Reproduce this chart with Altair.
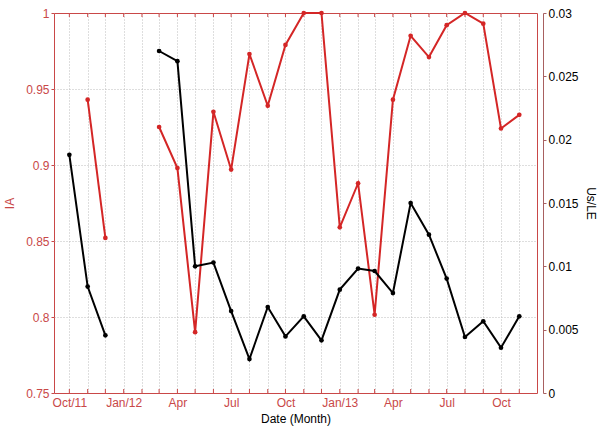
import altair as alt
import pandas as pd

# Monthly observations (missing months are simply absent)
months = ["2011-10", "2011-11", "2011-12", "2012-03", "2012-04", "2012-05",
          "2012-06", "2012-07", "2012-08", "2012-09", "2012-10", "2012-11",
          "2012-12", "2013-01", "2013-02", "2013-03", "2013-04", "2013-05",
          "2013-06", "2013-07", "2013-08", "2013-09", "2013-10", "2013-11"]
ia = [None, 0.943, 0.852, 0.925, 0.898, 0.790, 0.935, 0.897, 0.973, 0.939,
      0.979, 1.0, 1.0, 0.859, 0.888, 0.8015, 0.943, 0.985, 0.971, 0.992,
      1.0, 0.993, 0.924, 0.933]
us_le = [0.0188, 0.0084, 0.00455, 0.0270, 0.0262, 0.0100, 0.0103, 0.00647,
         0.00268, 0.00679, 0.00447, 0.00605, 0.00416, 0.00816, 0.00982,
         0.00963, 0.00789, 0.0150, 0.0125, 0.00903, 0.00442, 0.00566,
         0.00358, 0.00605]

# Axis labels shown at quarterly positions
quarter_labels = {"2011-10": "Oct/11", "2012-01": "Jan/12", "2012-04": "Apr",
                  "2012-07": "Jul", "2012-10": "Oct", "2013-01": "Jan/13",
                  "2013-04": "Apr", "2013-07": "Jul", "2013-10": "Oct"}
ia_ticks = [0.75, 0.8, 0.85, 0.9, 0.95, 1.0]
us_ticks = [0.0, 0.005, 0.01, 0.015, 0.02, 0.025, 0.03]

RED = "#d42626"
AXIS_RED = "#c94848"
RIGHT_AXIS = "#a86060"
GRID = "#bdbdbd"
FONT = "Liberation Sans"

# Build the table; a new segment starts after each gap in the monthly record
df = pd.DataFrame({"month": months, "ia": ia, "us_le": us_le})
per = pd.PeriodIndex(df["month"], freq="M")
idx = per.year * 12 + per.month
df["segment"] = (pd.Series(idx).diff().fillna(1) > 1).cumsum().values
df["date"] = df["month"] + "-01"

all_months = pd.period_range("2011-10", "2013-11", freq="M")
ticks_df = pd.DataFrame({"date": [str(p) + "-01" for p in all_months]})

label_expr = "".join(
    f"utcFormat(datum.value, '%Y-%m') == '{k}' ? '{v}' : " for k, v in quarter_labels.items()
) + "''"

x_enc = alt.X(
    "date:T",
    scale=alt.Scale(type="utc",
                    domain=[alt.DateTime(year=2011, month=9, date=5, utc=True),
                            alt.DateTime(year=2013, month=12, date=1, utc=True)]),
    axis=alt.Axis(
        values=[alt.DateTime(year=p.year, month=p.month, date=1, utc=True) for p in all_months],
        labelExpr=label_expr, labelOverlap=False,
        grid=True, gridDash=[1, 2], gridColor=GRID, gridWidth=1,
        ticks=False, domain=False,
        labelColor=AXIS_RED, labelFont=FONT, labelFontSize=12, labelPadding=4,
        title="Date (Month)", titleColor="black", titleFont=FONT,
        titleFontSize=12, titleFontWeight="normal", titlePadding=5,
    ),
)

ia_line = alt.Chart(df).transform_filter("isValid(datum.ia)").mark_line(
    color=RED, strokeWidth=2,
    point=alt.OverlayMarkDef(color=RED, filled=True, size=22, opacity=1),
).encode(
    x=x_enc,
    y=alt.Y("ia:Q",
            scale=alt.Scale(domain=[0.75, 1.0], nice=False, zero=False),
            axis=alt.Axis(orient="left", values=ia_ticks, format=".2~f",
                          grid=True, gridDash=[1, 2], gridColor=GRID,
                          gridOpacity=alt.condition(
                              "datum.value <= 0.75 || datum.value >= 1",
                              alt.value(0), alt.value(1)),
                          domain=False, tickColor=AXIS_RED, tickSize=3,
                          labelColor=AXIS_RED, labelFont=FONT, labelFontSize=12,
                          labelPadding=2, title="IA", titleColor=AXIS_RED,
                          titleFont=FONT, titleFontSize=12,
                          titleFontWeight="normal", titlePadding=9)),
    detail="segment:N",
)

us_line = alt.Chart(df).mark_line(
    color="black", strokeWidth=2,
    point=alt.OverlayMarkDef(color="black", filled=True, size=22, opacity=1),
).encode(
    x=x_enc,
    y=alt.Y("us_le:Q",
            scale=alt.Scale(domain=[0.0, 0.03], nice=False, zero=False),
            axis=alt.Axis(orient="right", offset=6, values=us_ticks, format=".3~f",
                          grid=False, domainColor=RIGHT_AXIS, tickColor=RIGHT_AXIS,
                          tickSize=3, labelColor="black", labelFont=FONT,
                          labelFontSize=12, labelPadding=2, title="Us/LE",
                          titleColor="black", titleFont=FONT, titleFontSize=12,
                          titleFontWeight="normal", titlePadding=5)),
    detail="segment:N",
)

# Short inward month ticks along the bottom and top of the frame
tick_bottom = alt.Chart(ticks_df).mark_rule(color=AXIS_RED, strokeWidth=1).encode(
    x=x_enc, y=alt.value(380), y2=alt.value(376))
tick_top = alt.Chart(ticks_df).mark_rule(color=AXIS_RED, strokeWidth=1).encode(
    x=x_enc, y=alt.value(0), y2=alt.value(4))

chart = alt.layer(tick_bottom, tick_top, ia_line, us_line).resolve_scale(
    y="independent"
).properties(
    width=483, height=380,
    background="white",
    autosize=alt.AutoSizeParams(type="none"),
    padding={"left": 54, "top": 13, "right": 62, "bottom": 34},
).configure_view(
    stroke=AXIS_RED, strokeWidth=1
)

chart.save("out.html", embed_options={"renderer": "svg", "actions": False})
